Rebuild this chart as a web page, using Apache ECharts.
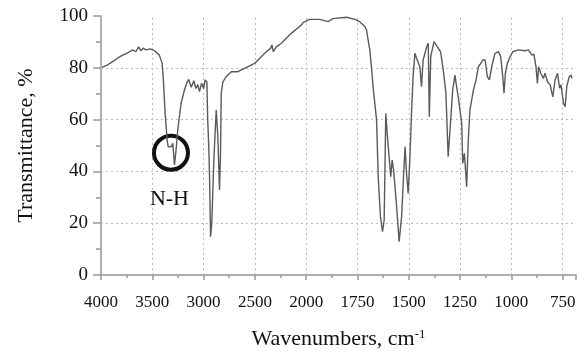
<!DOCTYPE html>
<html>
<head>
<meta charset="utf-8">
<script src="https://cdn.jsdelivr.net/npm/echarts@6/dist/echarts.min.js"></script>
<style>
html,body{margin:0;padding:0;background:#fff;}
#chart{width:586px;height:352px;}
</style>
</head>
<body>
<div id="chart"></div>
<script>
// Tick labels of the (two-scale) wavenumber axis
var tickLabels = ['4000','3500','3000','2500','2000','1750','1500','1250','1000','750'];
// Dotted grid lines (transmittance levels)
var gridLevels = [20, 40, 60, 80];
// Spectrum: wavenumber (cm-1) and transmittance (%)
var wavenumbers = [3990,3936,3887,3838,3789,3740,3691,3660,3633,3610,3590,3561,3520,3479,3431,3404,3392,3375,3355,3345,3316,3300,3284,3268,3252,3219,3187,3160,3145,3120,3095,3075,3057,3040,3020,3000,2985,2968,2960,2950,2942,2932,2920,2900,2877,2861,2845,2835,2828,2812,2779,2730,2666,2600,2503,2405,2347,2334,2320,2291,2242,2145,2047,2031,1983,1934,1893,1870,1861,1804,1763,1739,1714,1706,1698,1690,1682,1674,1657,1649,1638,1628,1620,1612,1604,1596,1588,1581,1574,1563,1552,1547,1535,1524,1518,1511,1503,1495,1486,1479,1470,1462,1454,1446,1438,1430,1413,1405,1400,1393,1377,1361,1345,1332,1319,1308,1299,1286,1275,1267,1259,1250,1242,1237,1229,1218,1210,1202,1185,1172,1161,1149,1140,1128,1122,1117,1107,1096,1080,1063,1052,1042,1036,1029,1020,1006,993,966,933,917,900,890,880,873,867,857,844,836,824,811,798,787,775,765,758,746,738,730,718,708,705];
var transmittance = [80.2,81.1,82.4,83.7,84.9,85.8,86.9,86.2,88.1,86.5,87.6,86.9,87.3,86.6,84.9,81.7,75.3,62.4,52.1,49.5,49.5,50.8,42.5,48.3,56,66.3,71.4,74.5,75.5,72.5,75,72,73.5,70.8,74,72,75.3,74.5,60,50,38,14.8,20,44.4,63.7,53.4,32.8,47,70.2,74.6,76.6,78.5,78.5,79.8,81.7,85.6,87.5,88.8,86.2,88.1,89.5,93.3,96.5,97.4,98.7,98.7,97.8,99,99.5,99.5,98.7,97.8,95.9,94.6,90.7,86.9,80.4,72.7,59.8,38,22.5,16.7,21.2,62.4,53.4,45.7,38,44.4,40.5,30.2,18.6,12.9,22.5,40.5,49.5,39.3,31.5,44.4,63.7,76.6,85.6,83.7,84.3,80.4,72.7,83,88.1,89.5,61.1,84.3,90.1,88.1,86.2,79.2,70.2,45.7,56,71.4,77.2,72.7,68.8,68.8,58.6,43.1,47,34.1,52.1,63.7,71.4,75.3,80.4,81.7,83,83,83.7,76.6,75.3,80.4,85.6,86.2,84.3,76.6,70.2,77.9,81.7,84.3,86.2,86.9,86.6,86.9,84.9,85.3,80.4,74,80.4,77.9,75.9,77.9,74.6,73.4,68.8,75.3,77.9,72.1,73.4,66.3,65,72.7,76.6,77.2,75.9];
// Annotation (N-H band)
var annotationLabel = 'N-H';
var annotationCircle = [3318, 47.2];
var annotationText = [3333, 29.3];
var axisEndWavenumber = 685;

// Two-scale axis: 500 cm-1 per division above 2000, 250 cm-1 per division below
function toAxis(w) { return w >= 2000 ? (4000 - w) / 500 : 4 + (2000 - w) / 250; }

var lineData = wavenumbers.map(function (w, i) { return [toAxis(w), transmittance[i]]; });
var serif = 'Liberation Serif';
var uMax = toAxis(axisEndWavenumber);
var borderAxisLine = {show: true, lineStyle: {color: '#aaa', width: 1.5}};
var gridMarks = [];
gridLevels.forEach(function (t) { gridMarks.push({yAxis: t}); });
tickLabels.forEach(function (lbl, i) { if (i > 0) gridMarks.push({xAxis: i}); });
var chart = echarts.init(document.getElementById('chart'), null, {renderer: 'canvas'});
chart.setOption({
  animation: false,
  backgroundColor: '#fff',
  grid: {left: 101, right: 10, top: 16, bottom: 77, show: false, outerBoundsMode: 'none', containLabel: false},
  xAxis: [{
    type: 'value', min: 0, max: uMax, interval: 1, position: 'bottom',
    name: 'Wavenumbers, cm{sup|-1}', nameLocation: 'middle', nameGap: 53,
    nameTextStyle: {fontFamily: serif, fontSize: 22, color: '#111',
      rich: {sup: {fontFamily: serif, fontSize: 13, color: '#111', padding: [0, 0, 10, 0]}}},
    axisLine: borderAxisLine,
    axisTick: {show: true, length: 5, lineStyle: {color: '#999', width: 1.5}},
    minorTick: {show: true, splitNumber: 2, length: 3, lineStyle: {color: '#999', width: 1.5}},
    splitLine: {show: false},
    axisLabel: {fontFamily: serif, fontSize: 17, color: '#111', margin: 19, showMaxLabel: false,
      formatter: function (v) { var i = Math.round(v); return Math.abs(v - i) < 1e-6 && tickLabels[i] ? tickLabels[i] : ''; }}
  }, {
    type: 'value', min: 0, max: uMax, position: 'top',
    axisLine: borderAxisLine, axisTick: {show: false}, axisLabel: {show: false}, splitLine: {show: false}
  }],
  yAxis: [{
    type: 'value', min: 0, max: 100, interval: 20, position: 'left',
    name: 'Transmittance, %', nameLocation: 'middle', nameGap: 64,
    nameTextStyle: {fontFamily: serif, fontSize: 22, color: '#111'},
    axisLine: borderAxisLine,
    axisTick: {show: true, length: 8, lineStyle: {color: '#999', width: 1.5}},
    minorTick: {show: true, splitNumber: 2, length: 5, lineStyle: {color: '#999', width: 1.5}},
    splitLine: {show: false},
    axisLabel: {fontFamily: serif, fontSize: 19, color: '#111', margin: 13}
  }, {
    type: 'value', min: 0, max: 100, position: 'right',
    axisLine: borderAxisLine, axisTick: {show: false}, axisLabel: {show: false}, splitLine: {show: false}
  }],
  series: [
    {type: 'line', data: lineData, showSymbol: false, symbol: 'none', silent: true, z: 3,
     lineStyle: {color: '#5a5a5a', width: 1.4},
     markLine: {silent: true, symbol: ['none', 'none'], label: {show: false}, animation: false, z: 1,
       lineStyle: {color: '#bbb', type: [2, 3], width: 1}, emphasis: {disabled: true},
       data: gridMarks}},
    {type: 'scatter', silent: true, data: [[toAxis(annotationCircle[0]), annotationCircle[1]]],
     symbol: 'circle', symbolSize: 34,
     itemStyle: {color: 'rgba(0,0,0,0)', borderColor: '#111', borderWidth: 4, opacity: 1}},
    {type: 'scatter', silent: true, data: [[toAxis(annotationText[0]), annotationText[1]]],
     symbolSize: 0, itemStyle: {opacity: 1},
     label: {show: true, position: 'inside', formatter: annotationLabel, fontFamily: serif, fontSize: 22, color: '#111', opacity: 1}}
  ]
});
</script>
</body>
</html>
